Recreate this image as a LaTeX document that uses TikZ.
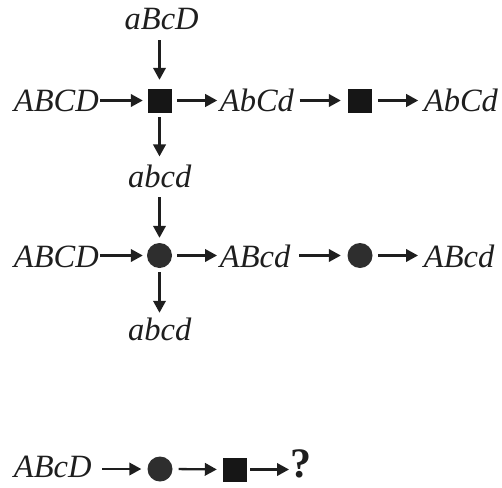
\documentclass[tikz,border=0pt]{standalone}
\usepackage{fontspec}
\setmainfont{Liberation Serif}
\usetikzlibrary{arrows.meta}
\definecolor{inkc}{HTML}{1E1E1E}
\definecolor{sqc}{HTML}{161616}
\definecolor{circc}{HTML}{2E2E2E}
\tikzset{
  lbl/.style={inner sep=0pt, anchor=base west, text=inkc, font=\itshape\fontsize{32.5}{39}\selectfont},
  qlbl/.style={inner sep=0pt, anchor=base west, text=inkc, font=\bfseries\fontsize{42}{48}\selectfont},
  sqbox/.style={rectangle, fill=sqc, minimum size=24pt, inner sep=0pt},
  dotc/.style={circle, fill=circc, minimum size=25pt, inner sep=0pt},
  arr/.style={draw=inkc, line width=2.3pt, -{Triangle[length=12pt,width=12.5pt]}}
}
\begin{document}
\begin{tikzpicture}[x=1pt,y=-1pt]
\useasboundingbox (0,0) rectangle (502,487);
% row 1
\node[lbl] (t1) at (13.7,111) {ABCD};
\node[sqbox] (s1) at (159.5,100.5) {};
\node[lbl] (t2) at (219.7,111) {AbCd};
\node[sqbox] (s2) at (360,100.5) {};
\node[lbl] (t3) at (423.7,111) {AbCd};
\node[lbl] (top) at (124.5,30) {aBcD};
\node[lbl] (b1) at (128,187) {abcd};
% row 2
\node[lbl] (t4) at (13.7,267) {ABCD};
\node[dotc] (c1) at (159.5,255.5) {};
\node[lbl] (t5) at (219.7,267) {ABcd};
\node[dotc] (c2) at (360,255.5) {};
\node[lbl] (t6) at (423.7,267) {ABcd};
\node[lbl] (b2) at (128,340) {abcd};
% row 3
\node[lbl] (t7) at (13.7,477) {ABcD};
\node[dotc] (c3) at (160,469) {};
\node[sqbox] (s3) at (234.7,469.5) {};
\node[qlbl] (q) at (290.6,477) {?};
% arrows row 1
\draw[arr, shorten <=1.4pt, shorten >=4.5pt] (t1.east |- s1.center) -- (s1.west);
\draw[arr, shorten <=5.5pt, shorten >=2.5pt] (s1.east) -- (t2.west |- s1.center);
\draw[arr, shorten <=5.5pt, shorten >=7pt] (t2.east |- s2.center) -- (s2.west);
\draw[arr, shorten <=6pt, shorten >=5.5pt] (s2.east) -- (t3.west |- s2.center);
\draw[arr, shorten <=9.6pt, shorten >=8.5pt] (top.south -| s1.center) -- (s1.north);
\draw[arr, shorten <=4.5pt, shorten >=7.8pt] (s1.south) -- (b1.north -| s1.center);
% arrows row 2
\draw[arr, shorten <=9.6pt, shorten >=5pt] (b1.south -| c1.center) -- (c1.north);
\draw[arr, shorten <=1.4pt, shorten >=4pt] (t4.east |- c1.center) -- (c1.west);
\draw[arr, shorten <=5pt, shorten >=2.7pt] (c1.east) -- (t5.west |- c1.center);
\draw[arr, shorten <=9pt, shorten >=6.5pt] (t5.east |- c2.center) -- (c2.west);
\draw[arr, shorten <=5.5pt, shorten >=5.7pt] (c2.east) -- (t6.west |- c2.center);
\draw[arr, shorten <=4pt, shorten >=4.5pt] (c1.south) -- (b2.north -| c1.center);
% arrows row 3
\draw[arr, shorten <=10.7pt, shorten >=6pt] (t7.east |- c3.center) -- (c3.west);
\draw[arr, shorten <=6pt, shorten >=5.7pt] (c3.east) -- (s3.west);
\draw[arr, shorten <=3.3pt, shorten >=1.6pt] (s3.east) -- (q.west |- s3.center);
\end{tikzpicture}
\end{document}
